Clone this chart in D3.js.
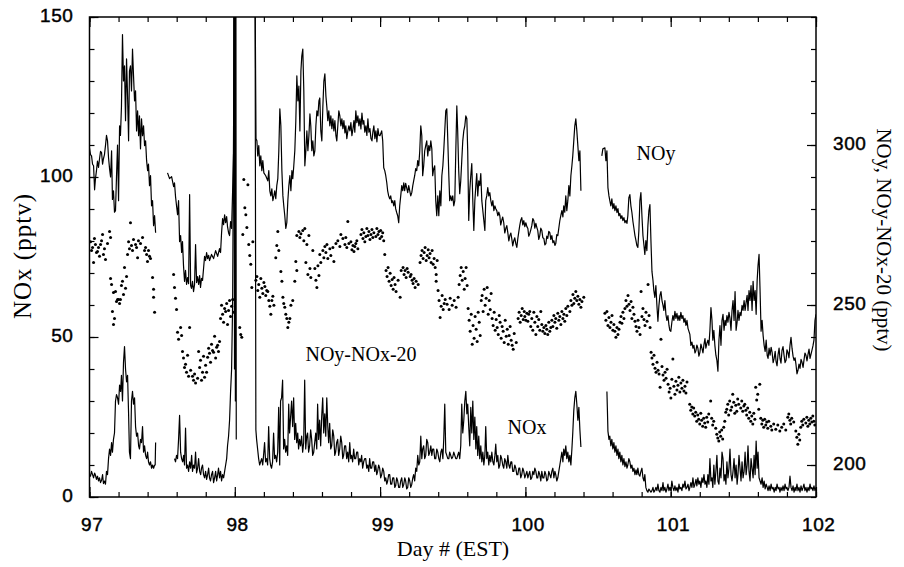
<!DOCTYPE html>
<html><head><meta charset="utf-8">
<script src="https://cdn.jsdelivr.net/npm/d3@7/dist/d3.min.js"></script>
<style>body{margin:0;background:#fff}</style>
</head><body>
<svg id="chart" width="904" height="567"></svg>
<script>
// ---------- data ----------
const xMajorTicks = [97, 98, 99, 100, 101, 102];
const leftTickLabels = [0, 50, 100, 150];
const rightTickLabels = [200, 250, 300];
const seriesLabels = ["NOy", "NOy-NOx-20", "NOx"];

// NOy (right axis, pptv): [day, value]; null marks a data gap
const noyData = [
[97.000,299],[97.007,297],[97.014,296.6],[97.021,294],[97.028,293.5],[97.035,286],[97.041,289.5],[97.048,292],[97.055,295],[97.062,293],[97.069,295.7],[97.076,298],[97.083,297.6],[97.090,294],[97.096,295.7],[97.103,297],[97.110,299.8],[97.117,303],[97.124,301.3],[97.131,296],[97.138,292.6],[97.145,290],[97.152,298.2],[97.158,283],[97.165,285.7],[97.172,279],[97.179,279.5],[97.186,290.4],[97.193,300],[97.200,282.6],[97.207,306],[97.213,303],[97.220,312],[97.227,334.5],[97.234,320],[97.241,324.7],[97.248,307.6],[97.255,326.9],[97.262,315.3],[97.269,301.3],[97.275,323.1],[97.282,324.7],[97.289,316.9],[97.296,330],[97.303,321.6],[97.310,313.8],[97.317,316.9],[97.324,304.4],[97.331,310.7],[97.338,302.9],[97.344,309.1],[97.351,298.8],[97.358,308.2],[97.365,302.9],[97.372,306],[97.379,299.8],[97.386,301.3],[97.393,295.1],[97.400,292],[97.406,294],[97.413,287.3],[97.420,290.4],[97.427,281],[97.434,282.6],[97.441,274.8],[97.448,277.9],[97.455,272.6],[97.5,null],
[97.537,291.3],[97.551,289.5],[97.565,290.1],[97.579,287],[97.585,288.2],[97.592,283.9],[97.599,281],[97.606,278.2],[97.613,282.6],[97.620,269.8],[97.627,271.7],[97.634,266.4],[97.640,269.8],[97.647,262.3],[97.654,257.4],[97.661,260.8],[97.668,256.4],[97.675,258.6],[97.682,256.7],[97.689,284.5],[97.696,256.1],[97.702,255.2],[97.709,257.4],[97.716,254.2],[97.723,256.4],[97.730,268.9],[97.737,257],[97.744,258.9],[97.751,256.4],[97.758,259.2],[97.764,255.5],[97.771,258.3],[97.778,257.7],[97.785,261.4],[97.792,265.2],[97.799,263.9],[97.806,266.4],[97.813,264.5],[97.820,265.5],[97.826,263.9],[97.840,265.8],[97.854,264.5],[97.868,267],[97.882,265.2],[97.895,267.6],[97.902,266.4],[97.909,272.6],[97.916,277],[97.923,275.1],[97.930,278.2],[97.937,275.7],[97.944,277.6],[97.950,274.5],[97.957,272.6],[97.964,271.7],[97.971,276.1],[97.978,273.9],[97.985,285.7],[97.992,298.2],[97.996,360],[98.012,360],[98.05,null],
[98.138,360],[98.146,302],[98.152,301.3],[98.158,296.6],[98.165,299.8],[98.172,293.5],[98.179,296.6],[98.186,292],[98.193,295.1],[98.200,291.3],[98.213,290.4],[98.227,288.8],[98.234,292],[98.241,285.7],[98.248,284.1],[98.255,286.3],[98.262,282.6],[98.269,284.1],[98.275,285.7],[98.282,283.2],[98.289,287.3],[98.296,289.5],[98.303,298.2],[98.310,311.3],[98.317,306],[98.324,292],[98.331,284.1],[98.337,281],[98.344,277.9],[98.351,273.9],[98.358,275.7],[98.365,282.6],[98.372,287.3],[98.379,290.4],[98.386,285.7],[98.393,292],[98.399,289.5],[98.406,293.5],[98.413,298.2],[98.420,307.6],[98.427,321.6],[98.434,313.8],[98.441,318.4],[98.448,304.4],[98.455,323.1],[98.461,327.8],[98.468,330],[98.475,316.9],[98.482,293.5],[98.489,298.2],[98.496,304.4],[98.503,298.2],[98.510,302.9],[98.517,309.7],[98.523,306],[98.530,298.2],[98.537,301.3],[98.544,296.6],[98.551,298.2],[98.558,306],[98.565,310.7],[98.572,309.1],[98.579,313.8],[98.585,314.7],[98.592,304.4],[98.599,301.3],[98.606,312],[98.613,320],[98.620,322.2],[98.627,315.3],[98.634,311.6],[98.640,307.6],[98.647,310.7],[98.654,306],[98.661,309.1],[98.668,305.1],[98.675,308.2],[98.682,304.4],[98.689,307.6],[98.696,302.9],[98.702,301.3],[98.709,306],[98.716,310.7],[98.723,309.1],[98.730,306],[98.737,308.2],[98.744,305.1],[98.751,307.6],[98.758,303.8],[98.764,306],[98.771,302],[98.778,304.4],[98.785,306],[98.792,304.4],[98.799,307],[98.806,302.9],[98.813,305],[98.820,307.6],[98.826,304],[98.833,310.7],[98.840,307],[98.847,309.1],[98.854,306],[98.861,308.2],[98.868,305],[98.875,310],[98.882,306.5],[98.888,307.6],[98.895,304],[98.902,306],[98.909,303],[98.916,308.2],[98.923,304],[98.930,305.1],[98.937,302],[98.944,301.3],[98.950,304],[98.957,306],[98.964,302],[98.971,304.4],[98.978,301],[98.985,305.1],[98.992,303],[98.999,302.9],[99.011,304.4],[99.018,301.3],[99.025,292.9],[99.032,292],[99.039,290.4],[99.046,288.2],[99.052,285.7],[99.059,284.1],[99.066,283.2],[99.073,284.1],[99.080,282],[99.087,282.6],[99.094,281],[99.101,282.6],[99.107,280.1],[99.114,278.9],[99.121,277.9],[99.128,275.7],[99.135,281],[99.142,284.1],[99.149,287.3],[99.156,285.7],[99.163,288.2],[99.169,285.7],[99.176,288],[99.183,286.6],[99.190,285.1],[99.197,287.3],[99.204,285.7],[99.211,284.1],[99.218,285.1],[99.225,287.3],[99.231,288.8],[99.238,290.4],[99.245,292.6],[99.252,292],[99.259,295.1],[99.266,293.5],[99.273,298.2],[99.280,306],[99.287,302.9],[99.293,290.4],[99.300,293.5],[99.307,298.2],[99.314,299.8],[99.321,301.3],[99.328,296.6],[99.335,299.8],[99.342,298.2],[99.349,301.3],[99.356,298.8],[99.362,290.4],[99.369,292.6],[99.376,293.5],[99.383,282.6],[99.390,277.9],[99.397,284.1],[99.404,277.9],[99.411,285.7],[99.418,281],[99.425,290.4],[99.432,293.5],[99.438,298.2],[99.445,304.4],[99.452,310.7],[99.459,311.3],[99.466,301.3],[99.473,290.4],[99.479,282.6],[99.486,284.1],[99.493,282.6],[99.500,284.1],[99.507,281],[99.514,282.6],[99.521,298.2],[99.528,312.2],[99.534,304.4],[99.541,292],[99.548,284.8],[99.555,288.8],[99.562,295.1],[99.569,301.3],[99.576,304.4],[99.583,306],[99.590,309.1],[99.597,308.2],[99.603,298.2],[99.610,276.4],[99.617,285.7],[99.624,290.4],[99.631,294.2],[99.638,282.6],[99.645,273.3],[99.652,282.6],[99.659,287.3],[99.665,291.1],[99.672,284.1],[99.679,288.8],[99.686,287.3],[99.693,291.1],[99.700,282.6],[99.707,279.5],[99.714,276.4],[99.721,273.3],[99.727,282.6],[99.734,284.1],[99.741,286.7],[99.748,284.1],[99.755,285.1],[99.762,282.6],[99.769,281],[99.776,282.6],[99.783,279.5],[99.790,281],[99.796,280.1],[99.803,279.5],[99.810,277.9],[99.817,279],[99.824,277.9],[99.830,275],[99.837,276.4],[99.844,277.5],[99.851,275.7],[99.858,272.5],[99.865,273.9],[99.872,274.8],[99.879,272.6],[99.886,270],[99.893,271.7],[99.900,272.5],[99.906,270.8],[99.913,268.5],[99.920,270.1],[99.927,271],[99.934,269.2],[99.941,268],[99.948,270.8],[99.955,273],[99.961,274.8],[99.968,276.5],[99.975,277.3],[99.982,275],[99.989,276.4],[99.996,274.5],[100.003,275.7],[100.010,274.5],[100.017,273.9],[100.023,271.5],[100.030,272.3],[100.037,273.5],[100.044,274.8],[100.051,277],[100.058,276.4],[100.065,274],[100.072,275.5],[100.079,274.2],[100.085,273.3],[100.092,270.5],[100.099,271.7],[100.106,274],[100.113,273.3],[100.120,271],[100.127,270.8],[100.134,268.8],[100.141,269.2],[100.147,271.5],[100.154,270.8],[100.161,273],[100.168,272.6],[100.175,270.5],[100.182,271.7],[100.189,269.5],[100.196,270.1],[100.203,268.6],[100.209,269.2],[100.216,272],[100.223,271.7],[100.230,274],[100.237,276.4],[100.244,278],[100.251,279.5],[100.258,277.5],[100.264,281],[100.271,279],[100.278,284.1],[100.285,279.5],[100.292,282.6],[100.299,287.3],[100.306,284.1],[100.313,290.4],[100.320,293.5],[100.326,296.6],[100.333,301.3],[100.340,306],[100.347,308.2],[100.354,304.4],[100.361,299.8],[100.368,295.1],[100.375,298.2],[100.382,285.7],[100.45,null],
[100.526,296.6],[100.533,298.8],[100.547,299.1],[100.554,295.1],[100.561,298.2],[100.568,286.7],[100.575,284.1],[100.581,282.6],[100.588,281],[100.595,283.2],[100.602,280.1],[100.609,281.7],[100.616,279.5],[100.623,281],[100.630,278.9],[100.637,280.1],[100.643,277.9],[100.650,278.6],[100.657,277],[100.664,277.9],[100.671,276.4],[100.678,277.3],[100.685,275.7],[100.692,276.4],[100.699,275.5],[100.705,277.9],[100.712,283.5],[100.719,284.5],[100.726,281],[100.733,278.9],[100.740,276.1],[100.747,273.9],[100.754,271.7],[100.761,270.1],[100.767,268.6],[100.774,268],[100.781,273.3],[100.788,282.6],[100.795,285.1],[100.802,277.9],[100.809,271.7],[100.816,268.6],[100.822,265.8],[100.829,270.1],[100.836,267],[100.843,274.8],[100.850,279.5],[100.857,281.4],[100.864,270.1],[100.871,260.5],[100.878,257.7],[100.884,254.5],[100.891,252.4],[100.898,256.1],[100.905,249.9],[100.912,244.9],[100.919,249.9],[100.926,253],[100.933,254.2],[100.940,251.4],[100.947,249.9],[100.953,248.3],[100.960,251.4],[100.967,247.1],[100.974,245.2],[100.981,246.7],[100.988,243.6],[100.994,242.1],[101.001,241.8],[101.008,244.6],[101.015,246.7],[101.022,245.2],[101.029,248],[101.036,245.8],[101.043,247.4],[101.050,245.2],[101.057,246.7],[101.063,245.2],[101.070,247.7],[101.077,245.8],[101.084,246.7],[101.091,244.6],[101.098,245.8],[101.105,243.6],[101.112,245.2],[101.119,242.7],[101.132,240.8],[101.139,237.4],[101.146,238.4],[101.153,236.5],[101.160,237.4],[101.167,235],[101.174,235.8],[101.180,237.5],[101.187,236.5],[101.194,234],[101.201,235.2],[101.208,237.8],[101.215,236.5],[101.222,235],[101.229,237.7],[101.236,239.5],[101.242,236.5],[101.249,238],[101.256,239],[101.263,237.4],[101.270,242.1],[101.277,249.2],[101.284,245.2],[101.290,239],[101.297,242.1],[101.304,237.4],[101.311,234.3],[101.318,232.7],[101.325,229.3],[101.332,239],[101.339,243.6],[101.346,237.4],[101.353,245.2],[101.360,247.1],[101.367,242.1],[101.374,245.2],[101.380,243.6],[101.387,246.7],[101.394,244.6],[101.401,247.7],[101.408,245.8],[101.415,242.1],[101.422,248.3],[101.429,251.4],[101.436,245.2],[101.443,254.2],[101.450,242.1],[101.457,244.6],[101.463,248.3],[101.470,245.2],[101.477,247.7],[101.484,246.7],[101.491,249.9],[101.498,248.3],[101.505,251.4],[101.512,248.3],[101.519,250.8],[101.526,253],[101.532,248.3],[101.539,254.5],[101.546,251.4],[101.553,256.1],[101.560,248.3],[101.567,257.4],[101.574,251.4],[101.581,254.5],[101.588,247.1],[101.595,257.7],[101.601,262.3],[101.608,265.8],[101.615,254.5],[101.622,241.8],[101.629,245.2],[101.636,240.5],[101.643,237.4],[101.650,235.5],[101.657,239],[101.664,234.3],[101.670,233.3],[101.677,236.5],[101.684,234.3],[101.691,236.8],[101.698,235.2],[101.705,232],[101.712,233.3],[101.719,235.5],[101.725,232.4],[101.732,231],[101.739,234.6],[101.746,236.5],[101.752,233.3],[101.759,231.8],[101.766,235.8],[101.773,237],[101.780,234.3],[101.787,232],[101.794,232.7],[101.800,236],[101.807,235.2],[101.814,233.5],[101.821,237.4],[101.828,239.9],[101.835,236.5],[101.842,234],[101.849,232.7],[101.856,233.5],[101.862,231.5],[101.869,228.5],[101.876,229.6],[101.883,231.5],[101.890,230.2],[101.897,233],[101.904,232.1],[101.911,230.5],[101.917,232.7],[101.924,235],[101.931,234.3],[101.938,232.5],[101.945,234.6],[101.952,236.2],[101.959,233.3],[101.965,234.5],[101.972,235.8],[101.979,237.2],[101.986,239],[101.993,245.2],[102.000,247.1]
];

// NOx (left axis, pptv)
const noxData = [
[97.000,7],[97.007,6.5],[97.014,8],[97.021,7],[97.028,6],[97.035,7.5],[97.041,6.8],[97.048,5.5],[97.055,6.5],[97.062,5],[97.069,6],[97.076,4.5],[97.083,5.2],[97.090,7],[97.096,4.2],[97.103,5],[97.110,4],[97.117,8],[97.124,7],[97.131,12],[97.138,15],[97.145,13],[97.152,17],[97.158,14],[97.165,18],[97.172,20],[97.179,30],[97.186,32],[97.193,31],[97.200,29],[97.207,35],[97.214,33],[97.220,38],[97.227,30],[97.234,42],[97.241,47],[97.248,40],[97.255,36],[97.262,38],[97.269,26],[97.275,14],[97.282,12],[97.289,30],[97.296,33],[97.303,29],[97.310,31],[97.317,22],[97.324,19],[97.331,20],[97.338,16],[97.344,15],[97.351,18],[97.358,17],[97.365,22],[97.372,14],[97.379,16],[97.386,13],[97.393,12],[97.400,14],[97.406,11],[97.413,10],[97.420,11],[97.427,9],[97.434,10],[97.441,9],[97.448,10],[97.452,10],[97.455,17],[97.5,null],
[97.585,12],[97.592,11],[97.599,13],[97.606,12],[97.613,18],[97.620,25.5],[97.627,14],[97.634,12],[97.641,11],[97.648,13],[97.654,10],[97.661,21.5],[97.668,9],[97.675,10],[97.682,8],[97.689,11],[97.696,9],[97.703,13],[97.709,8],[97.716,10],[97.723,9],[97.730,14],[97.737,7.5],[97.744,9],[97.751,12],[97.758,8],[97.765,7],[97.771,9],[97.778,10],[97.785,7],[97.792,6],[97.799,8],[97.806,5.5],[97.813,7],[97.820,9],[97.826,6],[97.833,5],[97.840,7],[97.847,8],[97.854,4.5],[97.861,6],[97.868,8],[97.875,5],[97.882,7],[97.888,9],[97.895,6],[97.902,8],[97.909,5],[97.916,7],[97.923,6],[97.930,8],[97.937,10],[97.944,12],[97.950,16],[97.957,19],[97.964,24],[97.971,33],[97.978,40],[97.985,60],[97.992,120],[97.995,200],[97.998,40],[98.001,200],[98.004,30],[98.007,200],[98.010,18],[98.05,null],
[98.138,200],[98.145,21],[98.150,18],[98.157,15],[98.164,12],[98.171,10],[98.178,11],[98.185,12],[98.192,10],[98.198,13],[98.205,17],[98.212,11],[98.219,12],[98.226,10],[98.233,22],[98.240,12],[98.246,10],[98.253,9],[98.260,11],[98.267,20],[98.274,12],[98.281,13],[98.288,11],[98.295,14],[98.302,28],[98.309,10],[98.315,30],[98.322,31],[98.329,36.5],[98.336,15],[98.343,18],[98.350,14],[98.357,16],[98.364,13],[98.371,29],[98.377,20],[98.384,25],[98.391,30],[98.398,22],[98.405,31],[98.412,18],[98.419,23],[98.426,17],[98.433,20],[98.439,15],[98.446,18],[98.453,16],[98.460,19],[98.467,14],[98.474,17],[98.481,36.5],[98.488,15],[98.495,19],[98.501,20],[98.508,14],[98.515,16],[98.522,21],[98.529,18],[98.536,13],[98.543,14],[98.550,17],[98.557,20],[98.564,15],[98.570,29],[98.577,18],[98.584,24],[98.591,16],[98.598,25],[98.605,31],[98.612,20],[98.619,26],[98.626,19],[98.633,31],[98.640,22],[98.646,17],[98.653,23],[98.660,15],[98.667,16],[98.674,21],[98.681,19],[98.688,13],[98.694,14],[98.701,17],[98.708,18],[98.715,13],[98.722,15],[98.729,19],[98.736,17],[98.743,12],[98.749,13],[98.756,16],[98.763,16],[98.770,12],[98.777,14],[98.784,11],[98.791,17],[98.798,12],[98.804,13],[98.811,11],[98.818,15],[98.825,12],[98.832,12],[98.839,14],[98.846,14],[98.853,10],[98.860,12],[98.867,11],[98.873,13],[98.880,9],[98.887,11],[98.894,12],[98.901,12],[98.908,9],[98.915,10],[98.922,8],[98.928,12],[98.935,9],[98.942,9],[98.949,11],[98.956,11],[98.963,8],[98.970,10],[98.977,7],[98.983,8],[98.990,10],[98.997,9],[99.004,6],[99.011,7],[99.018,9],[99.025,8],[99.032,5],[99.039,6],[99.046,4],[99.052,5],[99.059,7],[99.066,7],[99.073,4],[99.080,4],[99.087,6],[99.094,6],[99.101,3],[99.107,3.5],[99.114,6],[99.121,5],[99.128,3],[99.135,3],[99.142,5],[99.149,6],[99.156,3],[99.163,4],[99.170,6],[99.176,5],[99.183,2.5],[99.190,3],[99.197,6],[99.204,5],[99.211,3],[99.218,4],[99.225,6],[99.231,7],[99.238,5],[99.245,9],[99.252,8],[99.259,13],[99.266,10],[99.273,11],[99.280,19],[99.287,12],[99.293,15],[99.300,16],[99.307,12],[99.314,13],[99.321,18],[99.328,17],[99.335,13],[99.342,14],[99.349,16],[99.356,13],[99.362,15],[99.369,15],[99.376,12],[99.383,12],[99.390,15],[99.397,14],[99.404,12],[99.411,11],[99.418,14],[99.425,15],[99.432,12],[99.438,18],[99.445,29],[99.452,14],[99.459,13],[99.466,12],[99.473,12],[99.479,14],[99.486,13],[99.493,12],[99.500,12.5],[99.507,14],[99.514,13],[99.521,12],[99.528,12],[99.534,13],[99.541,14],[99.548,12],[99.555,16],[99.562,29],[99.569,20],[99.576,24],[99.583,30],[99.590,33],[99.597,26],[99.603,29],[99.610,22],[99.617,16],[99.624,28],[99.631,20],[99.638,30],[99.645,18],[99.652,25],[99.659,15],[99.665,22],[99.672,13],[99.679,19],[99.686,12],[99.693,16],[99.700,11],[99.707,14],[99.714,10],[99.721,13],[99.727,22],[99.734,12],[99.741,14],[99.748,10],[99.755,13],[99.762,11],[99.769,14],[99.776,11],[99.783,10],[99.790,13],[99.796,16.5],[99.803,11],[99.810,13],[99.817,9],[99.824,10],[99.830,13],[99.837,12],[99.844,10],[99.851,9],[99.858,12],[99.865,11],[99.872,9],[99.879,13],[99.886,10],[99.893,9],[99.900,11],[99.906,11],[99.913,8],[99.920,8],[99.927,10],[99.934,9],[99.941,7],[99.948,7],[99.955,9],[99.961,9],[99.968,6],[99.975,7],[99.982,9],[99.989,8],[99.996,6],[100.003,7],[100.010,8],[100.017,6],[100.023,7],[100.030,8],[100.037,5.5],[100.044,6],[100.051,8],[100.058,7],[100.065,9],[100.072,8],[100.079,6],[100.085,6],[100.092,8],[100.099,7],[100.106,5],[100.113,8],[100.120,6],[100.127,6],[100.134,8],[100.141,7],[100.147,5],[100.154,5.5],[100.161,8],[100.168,7],[100.175,6],[100.182,8],[100.189,9],[100.196,6],[100.203,8],[100.209,7],[100.216,5],[100.223,6],[100.230,8],[100.237,10],[100.244,12],[100.251,14],[100.258,11],[100.264,15],[100.271,13],[100.278,16],[100.285,12],[100.292,14],[100.299,11],[100.306,13],[100.313,10],[100.320,15],[100.326,20],[100.333,27],[100.340,31],[100.347,33],[100.354,29],[100.361,24],[100.368,28],[100.375,21],[100.382,15.6],[100.45,null],
[100.561,33],[100.564,28],[100.568,20.6],[100.575,18],[100.581,19],[100.588,16],[100.595,18],[100.602,15],[100.609,17],[100.616,14],[100.623,16],[100.630,13],[100.637,15],[100.643,12],[100.650,14],[100.657,11],[100.664,13],[100.671,10],[100.678,12],[100.685,9.5],[100.692,11],[100.699,9],[100.705,10],[100.712,12],[100.719,11],[100.726,9],[100.733,10],[100.740,8],[100.747,9],[100.754,7],[100.761,8.5],[100.767,7],[100.774,9],[100.781,7],[100.788,6.5],[100.795,8],[100.802,9],[100.809,6],[100.816,5],[100.822,7],[100.829,3],[100.836,2],[100.843,1.5],[100.850,2.5],[100.857,2],[100.864,1.5],[100.871,2],[100.878,3],[100.884,1.5],[100.891,2],[100.898,3],[100.905,2],[100.912,4],[100.919,2],[100.926,1.5],[100.933,3],[100.940,2],[100.947,4.5],[100.953,2],[100.960,3],[100.967,1.5],[100.974,2.5],[100.981,4],[100.988,2],[100.994,3],[101.001,2],[101.008,5],[101.015,3],[101.022,2],[101.029,3.5],[101.036,2],[101.043,3],[101.050,1.5],[101.057,4],[101.063,2.5],[101.070,3],[101.077,2],[101.084,4],[101.091,3],[101.098,5],[101.105,2.5],[101.112,3],[101.119,4],[101.126,2],[101.132,3],[101.139,4.5],[101.146,3],[101.153,6],[101.160,3],[101.167,4],[101.174,5.5],[101.180,3.5],[101.187,6],[101.194,4],[101.201,5],[101.208,3],[101.215,6],[101.222,4.5],[101.229,7],[101.236,4],[101.242,5],[101.249,3],[101.256,7],[101.263,4],[101.270,12],[101.277,5],[101.284,6],[101.290,3],[101.297,10],[101.304,4],[101.311,8],[101.318,13],[101.325,5],[101.332,4],[101.339,9],[101.346,6],[101.353,14],[101.360,12],[101.367,5],[101.374,7],[101.380,4],[101.387,11],[101.394,6],[101.401,9],[101.408,15],[101.415,7],[101.422,5],[101.429,8],[101.436,12],[101.443,6],[101.450,10],[101.457,4],[101.463,7],[101.470,13],[101.477,9],[101.484,5],[101.491,11],[101.498,6],[101.505,8],[101.512,14],[101.519,7],[101.526,10],[101.532,16],[101.539,8],[101.546,5],[101.553,12],[101.560,9],[101.567,6],[101.574,13],[101.581,7],[101.588,17.5],[101.595,9],[101.601,14],[101.608,6],[101.615,5],[101.622,4],[101.629,6],[101.636,3],[101.643,5],[101.650,2.5],[101.657,4],[101.664,3],[101.670,2],[101.677,3.5],[101.684,2],[101.691,4],[101.698,2.5],[101.705,3],[101.712,1.5],[101.719,3],[101.725,2],[101.732,4],[101.739,2.5],[101.746,3],[101.752,1.5],[101.759,3],[101.766,2],[101.773,3.5],[101.780,2],[101.787,4],[101.794,2.5],[101.800,3],[101.807,2],[101.814,3],[101.821,6.5],[101.828,3],[101.835,2],[101.842,3.5],[101.849,1.5],[101.856,3],[101.862,2],[101.869,4],[101.876,2],[101.883,3],[101.890,1.5],[101.897,3.5],[101.904,2],[101.911,3],[101.917,4],[101.924,2],[101.931,3],[101.938,1.5],[101.945,3],[101.952,2],[101.959,4],[101.965,2.5],[101.972,3],[101.979,2],[101.986,3.5],[101.993,2],[102.000,3]
];

// NOy-NOx-20 (right axis, pptv), individual samples
const diffData = [
[97.007,269.8],[97.014,267],[97.021,268],[97.028,263.3],[97.034,270.8],[97.041,268.9],[97.048,266.4],[97.055,266.7],[97.062,268],[97.069,265.2],[97.076,268.9],[97.083,270.1],[97.090,272],[97.096,265.8],[97.103,267.6],[97.110,264.2],[97.124,269.2],[97.138,273],[97.145,271.1],[97.145,258.3],[97.152,256.4],[97.158,248],[97.165,243.9],[97.165,253.9],[97.172,245.8],[97.179,254.2],[97.186,251.1],[97.193,251.7],[97.200,251.7],[97.207,250.5],[97.213,251.7],[97.220,256.1],[97.227,257.4],[97.234,253.3],[97.241,261.7],[97.248,255.2],[97.255,258.9],[97.262,265.8],[97.269,269.8],[97.275,267.6],[97.282,275.7],[97.289,268.6],[97.296,267],[97.303,270.5],[97.317,268.9],[97.324,268],[97.331,264.8],[97.337,270.1],[97.351,269.2],[97.365,271.1],[97.379,267],[97.386,268],[97.393,265.8],[97.399,263.6],[97.406,267],[97.413,265.2],[97.420,264.5],[97.434,258.6],[97.441,254.9],[97.441,252.4],[97.448,247.7],
[97.579,259.5],[97.585,255.5],[97.592,252.1],[97.599,248.6],[97.606,241.5],[97.613,239.3],[97.627,243],[97.634,240.5],[97.640,235.5],[97.647,233.4],[97.654,230.5],[97.661,231.5],[97.668,229],[97.675,234.3],[97.682,227.7],[97.689,243],[97.696,229.6],[97.709,227.7],[97.716,226.5],[97.723,228.4],[97.730,225.6],[97.744,227.1],[97.751,235.5],[97.758,230.5],[97.764,232.7],[97.771,226.5],[97.778,229],[97.785,234],[97.792,227.4],[97.799,231.2],[97.806,229],[97.813,233.7],[97.820,236.5],[97.826,234.9],[97.833,232.1],[97.840,237.7],[97.847,235.8],[97.854,235.2],[97.861,240.2],[97.868,233.4],[97.875,236.8],[97.882,237.4],[97.888,235.5],[97.895,238.6],[97.902,245.8],[97.909,249.9],[97.916,247.1],[97.923,244.6],[97.930,248.9],[97.937,248],[97.944,250.5],[97.950,243.9],[97.957,248.3],[97.964,251.4],[97.971,246.4],[97.978,249.6],[97.985,251.7],[97.992,247.7],[97.999,251.7],
[98.034,243],[98.041,240.8],[98.048,239.9],[98.055,272],[98.062,289.2],[98.069,280.4],[98.076,278.2],[98.083,274.2],[98.090,287.6],[98.096,268.9],[98.103,265.5],[98.110,262.7],[98.117,255.5],[98.124,269.8],
[98.145,257.7],[98.152,258.9],[98.158,254.5],[98.165,256.4],[98.172,252.4],[98.179,258.3],[98.186,255.2],[98.193,253.6],[98.200,257],[98.207,255.8],[98.213,253],[98.220,254.5],[98.227,254.2],[98.234,251.4],[98.241,249.6],[98.248,247.1],[98.255,251.4],[98.262,252.7],[98.269,249.9],[98.282,264.8],[98.289,268.6],[98.296,273],[98.303,267],[98.317,260.5],[98.324,257.4],[98.331,252.4],[98.337,250.5],[98.344,249.3],[98.351,247.1],[98.358,245.8],[98.365,243],[98.372,244.6],[98.379,245.8],[98.386,249.9],[98.399,251.4],[98.413,257.4],[98.420,263.6],[98.427,260.8],[98.427,271.7],[98.441,273],[98.448,271.1],[98.455,272.3],[98.468,273.3],[98.475,270.1],[98.482,273.9],[98.489,263.3],[98.496,268.9],[98.503,259.5],[98.510,271.7],[98.517,261.4],[98.523,258.6],[98.537,267],[98.551,261.4],[98.558,257.7],[98.565,255.5],[98.572,262.3],[98.579,259.2],[98.585,265.8],[98.592,263.3],[98.606,267],[98.613,264.8],[98.620,268.3],[98.627,266.4],[98.634,268.9],[98.640,264.5],[98.654,267.6],[98.661,265.5],[98.675,268],[98.682,263.6],[98.696,269.2],[98.709,270.1],[98.723,268.3],[98.730,272],[98.744,270.8],[98.758,268.9],[98.764,271.1],[98.771,268],[98.778,276.1],[98.785,269.2],[98.799,269.8],[98.806,267.3],[98.813,268.6],[98.820,266.7],[98.826,268.3],[98.833,269.2],[98.840,270.1],[98.847,267.6],[98.868,272],[98.875,273.6],[98.882,270.8],[98.888,272.6],[98.895,269.8],[98.902,271.4],[98.909,273.9],[98.916,271.7],[98.923,273],[98.930,270.5],[98.937,272],[98.944,273.6],[98.950,271.1],[98.957,272.6],[98.971,271.4],[98.978,273.9],[98.985,272],[98.992,273],[98.999,270.8],[99.004,273.3],[99.011,271.4],[99.018,272.6],[99.025,270.1],[99.032,265.8],
[99.041,260.8],[99.048,258.9],[99.055,261.7],[99.062,257.4],[99.069,259.9],[99.076,256.1],[99.083,258],[99.090,254.9],[99.096,258.6],[99.103,256.4],[99.110,254.2],[99.124,257.7],[99.138,252.4],[99.145,260.8],[99.158,261.7],[99.165,259.5],[99.172,260.8],[99.179,258.6],[99.186,261.4],[99.193,260.2],[99.207,258.9],[99.213,259.5],[99.220,257.7],[99.227,256.7],[99.234,258.3],[99.241,255.5],[99.248,257.4],[99.262,256.4],[99.275,263.3],[99.282,265.5],[99.289,267],[99.296,264.5],[99.303,266.4],[99.310,268],[99.317,263.9],[99.324,265.5],[99.331,267.3],[99.337,264.8],[99.344,266.1],[99.351,263.3],[99.358,267],[99.365,262.7],[99.372,264.5],[99.379,261.7],[99.386,259.5],[99.386,257.4],[99.393,263.9],[99.399,254.5],[99.406,251.4],[99.413,246.1],[99.420,249.6],[99.427,253],[99.434,248.6],[99.441,250.5],[99.448,251.7],[99.461,250.2],[99.475,248.6],[99.482,252.1],[99.496,249.9],[99.510,251.4],[99.523,249.3],[99.537,252.4],
[99.544,256.4],[99.551,259.2],[99.558,261.7],[99.565,257.7],[99.572,260.5],[99.579,254.9],[99.585,258.3],[99.592,261.7],[99.599,256.1],[99.606,248.9],[99.613,245.2],[99.620,241.8],[99.627,247.1],[99.634,237.7],[99.640,243.6],[99.647,239.6],[99.654,246.4],[99.661,242.4],[99.668,238.6],[99.675,247.7],[99.682,244.6],[99.689,240.5],[99.696,251.4],[99.702,253],[99.709,248],[99.716,254.9],[99.723,249.9],[99.730,252.1],[99.737,255.5],[99.744,247.1],[99.751,251.4],[99.758,248.6],[99.764,253.6],[99.771,245.8],[99.778,243.6],[99.785,247.7],[99.792,242.1],[99.799,245.5],[99.806,243],[99.813,240.8],[99.820,246.7],[99.826,244.6],[99.833,239.6],[99.840,243.3],[99.847,241.8],[99.854,238.3],[99.861,245.2],[99.868,240.2],[99.875,242.4],[99.882,237.7],[99.888,240.5],[99.895,243.3],[99.902,239],[99.909,237.4],[99.916,236.2],[99.923,241.1],[99.937,238.3],[99.950,245.8],[99.957,247.7],[99.964,244.6],[99.971,246.7],[99.978,248.9],[99.985,245.5],[99.992,248],[99.996,246.4],[100.003,245.2],[100.010,247.4],[100.017,244.9],[100.023,247.1],[100.030,248],[100.037,243.3],[100.044,245.8],[100.051,242.1],[100.058,247.7],[100.065,244.6],[100.072,240.8],[100.079,246.4],[100.085,243.3],[100.092,245.5],[100.099,242.1],[100.106,248],[100.113,243.9],[100.120,241.8],[100.127,243],[100.134,241.1],[100.141,243.6],[100.147,242.4],[100.154,240.8],[100.161,244.6],[100.168,241.8],[100.175,243],[100.182,245.2],[100.189,243.3],[100.196,246.7],[100.203,244.6],[100.209,245.8],[100.216,242.7],[100.223,247.4],[100.230,245.2],[100.237,246.4],[100.244,243.9],[100.251,248],[100.258,245.8],[100.265,247.1],[100.271,244.9],[100.278,248.9],[100.285,246.7],[100.292,249.6],[100.306,248],[100.313,251.4],[100.320,249.9],[100.327,253.3],[100.333,250.5],[100.340,252.1],[100.347,254.2],[100.354,251.4],[100.361,252.7],[100.368,250.2],[100.375,251.7],[100.382,249.3],[100.389,251.1],[100.402,252.4],
[100.547,247.4],[100.554,245.2],[100.561,248],[100.568,243.6],[100.575,246.1],[100.582,243],[100.589,244.6],[100.596,246.7],[100.602,242.1],[100.609,243.9],[100.616,241.8],[100.623,239.9],[100.630,243],[100.637,240.8],[100.644,242.4],[100.651,244.6],[100.658,246.4],[100.664,244.3],[100.671,247.7],[100.678,245.8],[100.685,248.9],[100.692,251.4],[100.699,249.6],[100.706,253],[100.713,250.2],[100.720,248.3],[100.727,251.1],[100.733,245.8],[100.740,249.3],[100.747,247.1],[100.754,244.9],[100.761,243.3],[100.768,241.8],[100.775,245.2],[100.782,243],[100.789,240.8],[100.796,254.2],[100.802,246.4],[100.809,248.9],[100.816,245.5],[100.823,243.6],[100.830,247.7],[100.837,244.9],[100.844,256.4],[100.851,246.7],[100.858,243],[100.865,235.2],[100.871,233.4],[100.878,231.5],[100.885,234.3],[100.892,230.2],[100.899,229],[100.906,232.1],[100.913,229.6],[100.920,228.4],[100.927,224.3],[100.933,239.3],[100.940,230.8],[100.947,228.1],[100.954,226.5],[100.961,229],[100.968,227.1],[100.975,229.9],[100.982,225.2],[100.989,222.8],[100.996,224],[101.001,220.9],[101.008,226.8],[101.015,233.1],[101.022,224.6],[101.029,222.1],[101.036,226.2],[101.043,223.4],[101.050,224.9],[101.056,227.4],[101.063,222.8],[101.070,225.6],[101.077,224],[101.084,226.5],[101.091,223.1],[101.098,224.6],[101.105,222.5],[101.112,225.9],
[101.131,219],[101.138,217.1],[101.145,218.1],[101.152,215.9],[101.158,217.8],[101.165,215.3],[101.172,216.5],[101.179,213.7],[101.186,215.6],[101.193,214.3],[101.200,212.8],[101.207,216.2],[101.213,214],[101.220,212.1],[101.227,214.6],[101.234,213.1],[101.241,211.8],[101.248,214.9],[101.255,213.4],[101.262,215.9],[101.275,220],[101.282,214.6],[101.289,212.5],[101.296,213.7],[101.310,211.5],[101.317,209.6],[101.324,208.4],[101.331,207.5],[101.337,210.3],[101.344,209],[101.351,210.9],[101.358,208.1],[101.365,211.8],[101.372,213.7],[101.379,216.5],[101.386,217.4],[101.393,219],[101.399,215.6],[101.406,220],[101.413,217.1],[101.420,218.1],[101.427,222.1],[101.434,219.6],[101.441,216.2],[101.448,218.7],[101.455,216.8],[101.461,220.6],[101.468,219],[101.482,217.8],[101.489,220],[101.496,216.8],[101.503,218.4],[101.510,219],[101.517,217.1],[101.523,215.6],[101.530,217.8],[101.537,214.6],[101.544,216.5],[101.551,213.7],[101.558,215.3],[101.565,212.8],[101.572,216.2],[101.579,214.3],[101.585,224.3],[101.592,220.3],[101.599,222.1],[101.606,217.4],[101.613,225.2],[101.620,214.6],[101.627,212.8],[101.634,214],[101.640,211.8],[101.647,214.3],[101.654,212.5],[101.661,213.4],[101.668,211.5],[101.675,213.7],[101.689,212.1],[101.696,210.9],[101.709,212.8],[101.723,211.2],[101.737,212.5],[101.751,210.6],[101.764,211.8],[101.778,212.8],[101.792,210.9],[101.806,214.9],[101.813,215.9],[101.820,214],[101.826,212.8],[101.833,214.6],[101.847,213.4],[101.861,210.6],[101.868,208.7],[101.875,206.5],[101.882,209.6],[101.888,207.8],[101.895,211.8],[101.902,213.7],[101.909,212.5],[101.916,214.3],[101.930,213.1],[101.937,214.9],[101.944,212.1],[101.950,214],[101.957,212.8],[101.964,214.6],[101.971,213.4],[101.978,215.3],[101.985,213.7],[101.992,212.5]
];

// ---------- chart ----------
const L = 89.5, R = 816, T = 17, B = 497;
const svg = d3.select("#chart");
const x = d3.scaleLinear().domain([97, 102]).range([L, R]);
const yL = d3.scaleLinear().domain([0, 150]).range([B, T]);
const yR = d3.scaleLinear().domain([190, 340]).range([B, T]);

svg.append("defs").append("clipPath").attr("id", "plotclip")
  .append("rect").attr("x", L).attr("y", T).attr("width", R - L).attr("height", B - T);

const plot = svg.append("g").attr("clip-path", "url(#plotclip)");

const lineR = d3.line().defined(d => d[1] != null).x(d => x(d[0])).y(d => yR(d[1]));
const lineL = d3.line().defined(d => d[1] != null).x(d => x(d[0])).y(d => yL(d[1]));

plot.append("path").datum(noyData).attr("d", lineR)
  .attr("fill", "none").attr("stroke", "#000").attr("stroke-width", 1.2).attr("stroke-linejoin", "round");
plot.append("path").datum(noxData).attr("d", lineL)
  .attr("fill", "none").attr("stroke", "#000").attr("stroke-width", 1.2).attr("stroke-linejoin", "round");
plot.selectAll("circle.dot").data(diffData).join("circle").attr("class", "dot")
  .attr("cx", d => x(d[0])).attr("cy", d => yR(d[1])).attr("r", 1.5).attr("fill", "#000");

// axes
const tickFont = "'Liberation Sans', Arial, sans-serif";
const serif = "'Liberation Serif', 'Times New Roman', serif";
function styleAxis(g) {
  g.select(".domain").remove();
  g.selectAll("line").attr("stroke", "#000").attr("stroke-width", 1.2);
  g.selectAll("text").attr("font-family", tickFont).attr("font-size", 19)
    .attr("fill", "#000").attr("stroke", "#000").attr("stroke-width", 0.45)
    .attr("letter-spacing", 0.6);
  return g;
}
const xMinor = d3.range(0, 26).map(i => 97 + i * 0.2);
const leftMinor = d3.range(0, 151, 10);
const rightMinor = d3.range(190, 341, 10);

styleAxis(svg.append("g").attr("transform", `translate(0,${B})`)
  .call(d3.axisBottom(x).tickValues(xMinor).tickSize(-5).tickFormat("")));
styleAxis(svg.append("g").attr("transform", `translate(0,${B})`)
  .call(d3.axisBottom(x).tickValues(xMajorTicks).tickSize(-10).tickPadding(21).tickFormat(d3.format("d"))))
  .selectAll("text").attr("dx", "0.12em");
styleAxis(svg.append("g").attr("transform", `translate(0,${T})`)
  .call(d3.axisTop(x).tickValues(xMinor).tickSize(-5).tickFormat("")));
styleAxis(svg.append("g").attr("transform", `translate(0,${T})`)
  .call(d3.axisTop(x).tickValues(xMajorTicks).tickSize(-10).tickFormat("")));

styleAxis(svg.append("g").attr("transform", `translate(${L},0)`)
  .call(d3.axisLeft(yL).tickValues(leftMinor).tickSize(-5).tickFormat("")));
styleAxis(svg.append("g").attr("transform", `translate(${L},0)`)
  .call(d3.axisLeft(yL).tickValues(leftTickLabels).tickSize(-9).tickPadding(16).tickFormat(d3.format("d"))))
  .selectAll("text").attr("dy", "0.22em");
styleAxis(svg.append("g").attr("transform", `translate(${R},0)`)
  .call(d3.axisRight(yR).tickValues(rightMinor).tickSize(-5).tickFormat("")));
styleAxis(svg.append("g").attr("transform", `translate(${R},0)`)
  .call(d3.axisRight(yR).tickValues(rightTickLabels).tickSize(-9).tickPadding(17).tickFormat(d3.format("d"))))
  .selectAll("text").attr("dy", "0.22em");

// frame
svg.append("rect").attr("x", L).attr("y", T).attr("width", R - L).attr("height", B - T)
  .attr("fill", "none").attr("stroke", "#000").attr("stroke-width", 1.5);

// titles
svg.append("text").attr("transform", "translate(22,256) rotate(-90)")
  .attr("text-anchor", "middle").attr("dominant-baseline", "central")
  .attr("font-family", serif).attr("font-size", 25).attr("letter-spacing", 1)
  .text("NOx (pptv)");
svg.append("text").attr("transform", "translate(884,240) rotate(90)")
  .attr("text-anchor", "middle").attr("dominant-baseline", "central")
  .attr("font-family", serif).attr("font-size", 21).text("NOy, NOy-NOx-20 (pptv)");
svg.append("text").attr("x", 453).attr("y", 556).attr("text-anchor", "middle")
  .attr("font-family", serif).attr("font-size", 22).text("Day # (EST)");

// series labels
const labelPos = [[656, 160], [361, 361], [527, 434]];
seriesLabels.forEach((t, i) => {
  svg.append("text").attr("x", labelPos[i][0]).attr("y", labelPos[i][1])
    .attr("text-anchor", "middle").attr("font-family", serif).attr("font-size", 20).text(t);
});
</script>
</body></html>
